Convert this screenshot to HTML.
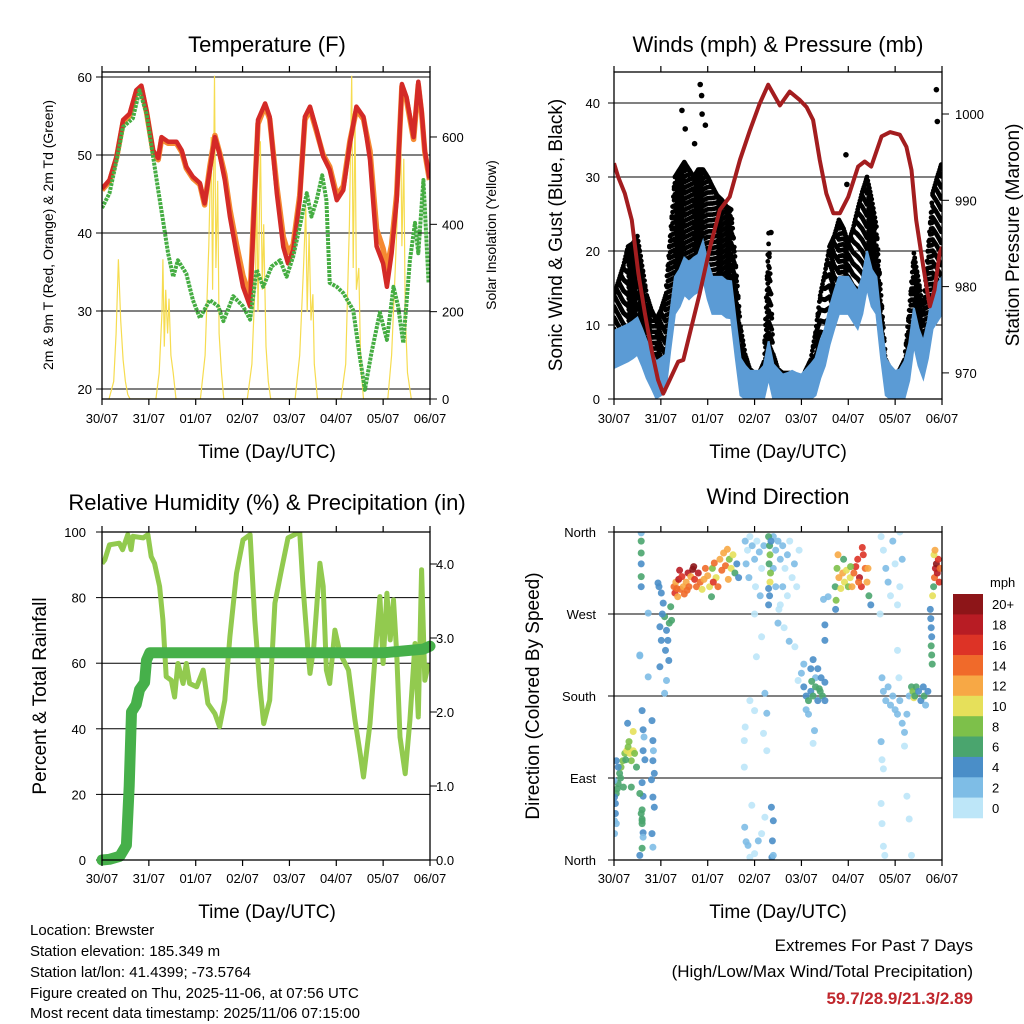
<!DOCTYPE html>
<html><head><meta charset="utf-8"><style>
html,body{margin:0;padding:0;background:#fff;}
svg{display:block;font-family:"Liberation Sans",sans-serif;}
</style></head><body>
<svg id="root" width="1024" height="1024" viewBox="0 0 1024 1024" xmlns="http://www.w3.org/2000/svg">
<rect x="0" y="0" width="1024" height="1024" fill="#fff"/>
<defs>
<clipPath id="c1"><rect x="102" y="72" width="328" height="327"/></clipPath>
<clipPath id="c2"><rect x="614" y="72" width="328" height="327"/></clipPath>
<clipPath id="c3"><rect x="102" y="532" width="328" height="328"/></clipPath>
<clipPath id="c4"><rect x="614" y="532" width="328" height="328"/></clipPath>
</defs>
<g id="p1"></g>
<g id="p2"></g>
<g id="p3"></g>
<g id="p4"></g>
<g id="info" font-size="15" fill="#000">
<text x="30" y="935">Location: Brewster</text>
<text x="30" y="956">Station elevation: 185.349 m</text>
<text x="30" y="977">Station lat/lon: 41.4399; -73.5764</text>
<text x="30" y="998">Figure created on Thu, 2025-11-06, at 07:56 UTC</text>
<text x="30" y="1018">Most recent data timestamp: 2025/11/06 07:15:00</text>
</g>
<g id="extremes" font-size="17" text-anchor="end">
<text x="973" y="951">Extremes For Past 7 Days</text>
<text x="973" y="977">(High/Low/Max Wind/Total Precipitation)</text>
<text x="973" y="1004" fill="#c0272d" font-weight="bold">59.7/28.9/21.3/2.89</text>
</g>
</svg>
<script>
// ---------- DATA ----------
const dayLabels = ["30/07","31/07","01/07","02/07","03/07","04/07","05/07","06/07"];
const tempT = [0,.16,.31,.45,.59,.73,.84,.95,1.09,1.20,1.27,1.41,1.59,1.70,1.80,1.94,2.09,2.19,2.30,2.41,2.51,2.62,2.73,2.87,3.01,3.16,3.23,3.33,3.48,3.58,3.73,3.87,3.97,4.08,4.22,4.33,4.44,4.58,4.72,4.86,5.01,5.15,5.29,5.43,5.58,5.72,5.86,6.00,6.08,6.18,6.29,6.40,6.50,6.65,6.75,6.82,6.89,6.99];
const temp2m = [45.7,46.8,49.8,54.5,55.3,58.3,58.9,55.7,50.6,49.6,52.3,51.7,51.7,50.6,48.5,47.2,46.4,43.8,48,52.3,50.1,46.8,42.1,37.4,33.1,30.6,40.8,54.5,56.6,54.9,45.1,38.2,36.1,37.8,44.2,54.9,56.2,53.2,49.8,48.1,44.2,45.5,51.5,56.2,54.9,49.4,38.3,36.1,33.1,37.4,44.2,59.1,57.4,52.3,59.4,55.7,50.6,47.0];
const temp9m = [45.5,46.6,49.6,54.2,55.0,58.0,58.6,55.5,50.4,49.4,52.0,51.5,51.5,50.4,48.3,47.0,46.2,43.6,48.5,52.5,50.3,47.5,43.0,38.5,34.5,31.8,41.5,54.0,56.3,54.6,46.0,39.5,37.5,38.5,44.8,54.5,55.9,53.0,50.0,48.5,44.8,46.0,51.8,55.8,54.6,50.5,40.5,38.0,35.5,38.5,45.0,58.8,57.0,52.0,59.0,55.4,50.4,46.8];
const dewT = [0,.16,.31,.45,.66,.80,.95,1.09,1.20,1.30,1.41,1.52,1.62,1.80,1.94,2.09,2.30,2.48,2.59,2.80,3.01,3.16,3.30,3.44,3.62,3.80,3.94,4.08,4.22,4.37,4.47,4.58,4.70,4.79,4.86,5.01,5.15,5.36,5.51,5.61,5.75,5.93,6.08,6.22,6.32,6.43,6.57,6.68,6.75,6.86,6.97];
const dewV = [43.2,45.1,49.3,53.6,54.7,58.3,55.3,49.8,45.5,41.7,37.4,34.4,36.5,34.8,31.4,29.1,31.4,30.6,28.7,31.9,30.6,28.9,35.3,33.1,35.7,36.5,34.4,37.0,40.8,45.1,42.1,44.2,47.4,44.2,33.6,33.1,32.3,30.1,23.8,19.9,24.6,29.8,26.3,33.1,30.6,25.9,36.5,41.3,37.4,46.8,33.6];
const solarT = [.15,.25,.3,.35,.4,.45,.5,.55,.6, 1.15,1.22,1.28,1.3,1.33,1.36,1.4,1.43,1.47,1.52,1.58, 2.1,2.2,2.28,2.33,2.36,2.4,2.43,2.47,2.5,2.55,2.6, 3.1,3.2,3.28,3.3,3.33,3.38,3.42,3.45,3.5,3.55,3.6, 4.12,4.22,4.3,4.35,4.38,4.42,4.46,4.5,4.53,4.6, 5.1,5.2,5.28,5.33,5.36,5.4,5.43,5.48,5.52,5.58, 6.1,6.18,6.26,6.33,6.37,6.4,6.44,6.47,6.52,6.6];
const solarV = [0,40,150,320,180,90,40,10,0, 0,60,200,320,120,250,150,230,100,60,0, 0,100,350,600,250,740,300,500,150,60,0, 0,80,300,520,200,590,250,400,120,40,0, 0,100,300,440,200,380,180,240,80,0, 0,80,400,740,300,650,250,300,80,0, 0,100,300,500,660,350,550,200,60,0];

const windT = [0,.1,.2,.3,.4,.5,.6,.7,.8,.9,1.0,1.1,1.2,1.3,1.4,1.5,1.6,1.7,1.8,1.9,2.0,2.1,2.2,2.3,2.4,2.5,2.6,2.7,2.8,2.9,3.0,3.1,3.2,3.3,3.4,3.5,3.6,3.7,3.8,3.9,4.0,4.1,4.2,4.3,4.4,4.5,4.6,4.7,4.8,4.9,5.0,5.1,5.2,5.3,5.4,5.5,5.6,5.7,5.8,5.9,6.0,6.1,6.2,6.3,6.4,6.5,6.6,6.7,6.8,6.9,7.0];
const windV = [6.7,7,7.3,7.6,8,8.5,7,5.3,4,2.6,3,3.5,9,14,15,16.6,16,16.6,17,18.8,16,14,14,14,13.5,13.4,8,3,2,1.3,1.3,1.3,2,5.3,2.2,1.5,0.8,1,1.3,1,0.8,1.5,2.2,3,5.3,7,9.8,12,14,14,14,13,12,14,17.5,15,14,8,3,2,1.3,1.5,2.6,5,9.8,7,5.3,8,12,13,14];
const gustV = [14,16,18,20.6,21,22,18,14,12,10.7,12,14,22,30,31,32,31,30,31,31,30,28.7,27.5,26.9,26,25.6,18,9.8,6,4,3.5,3.5,5,22.4,6,4,3.5,3.5,3.5,3,2.6,4,5.3,9,14,17,20.6,22,24.2,23,21,23,25.6,28,30,27,23.3,14,5.3,4,3,4,5.3,12,19.7,16,12,20,27.8,30,32];
const gustOutT = [1.45,1.52,1.84,1.87,1.88,1.95,1.72,3.35,4.95,4.97,6.88,6.9];
const gustOutV = [39,36.5,42.5,41,38.5,37,34.5,22.5,33,29,41.8,37.5];
const presT = [0,.09,.23,.38,.52,.66,.80,.94,1.05,1.19,1.37,1.48,1.62,1.83,2.05,2.26,2.47,2.69,2.90,3.11,3.29,3.54,3.75,3.97,4.11,4.25,4.39,4.53,4.68,4.82,5.00,5.21,5.35,5.49,5.71,5.89,6.10,6.24,6.35,6.45,6.60,6.74,6.84,6.95,7.0];
const presV = [994.3,992.7,990.8,987.7,981.5,976.9,972.7,969.2,967.6,969.2,971.3,971.5,974.6,979.2,984.6,988.9,990.4,994.7,998.1,1001.2,1003.4,1001.0,1002.6,1001.6,1000.8,999.3,994.7,990.8,988.5,988.5,990.4,993.9,994.5,993.9,997.4,997.9,997.6,996.2,993.5,987.7,982.3,977.7,979.6,983.9,984.6];

const rhT = [0,.06,.16,.37,.44,.55,.62,.66,.88,.98,1.05,1.12,1.23,1.30,1.37,1.48,1.55,1.62,1.73,1.80,1.87,2.02,2.16,2.26,2.41,2.51,2.62,2.73,2.87,3.01,3.16,3.26,3.37,3.45,3.58,3.69,3.83,3.97,4.22,4.29,4.40,4.44,4.52,4.65,4.72,4.79,4.86,4.97,5.08,5.26,5.40,5.51,5.58,5.72,5.86,5.93,6.00,6.08,6.15,6.22,6.29,6.36,6.47,6.57,6.68,6.75,6.82,6.89,6.97];
const rhV = [90.4,91.5,96.1,96.6,94.6,99.2,94.6,98.7,98.2,99.2,92.5,90.5,83.4,73.2,55.9,54.8,49.7,59.9,53.8,59.9,53.8,52.8,57.9,47.7,44.6,40.6,48.7,68.1,87.4,97.6,99.2,73.2,52.8,41.6,48.7,78.3,88.5,98.2,100,83.4,63,56.9,65.1,90.5,83.4,57.9,53.8,70.1,63,57.9,42.6,32.4,25.3,41.6,68.1,80.3,59.9,81.3,67.1,79.3,63,37.5,26.3,42.6,66,43.6,88.5,54.8,59.9];
const rainT = [0,.16,.38,.52,.58,.63,.73,.80,.91,.95,1.02,6.0,6.86,7.0];
const rainV = [0,.01,.05,.2,1.0,2.0,2.1,2.3,2.4,2.7,2.8,2.8,2.85,2.89];

// wind direction: [day, degrees(0=N,90=E,180=S,270=W), speed mph]
const dirDay = [];
const dirDeg = [];
const dirSpd = [];
const dirPts = [
[0.01,43,3],[0.03,62,4],[0.05,73,6],[0.09,84,7],[0.12,95,6],[0.15,102,8],[0.19,109,8],[0.23,117,9],[0.27,120,10],[0.3,124,9],[0.34,117,10],[0.37,109,9],[0.41,120,10],[0.44,117,8],[0.48,102,7],[0.29,150,4],[0.41,141,10],[0.05,109,5],[0.09,102,4],[0.0,87,3],[0.01,69,5],[0.03,51,4],[0.05,40,3],[0.01,29,3],[0.37,80,6],[0.2,80,6],[0.25,110,7],[0.32,130,8],[0.14,90,7],[0.07,78,6],
[0.58,359,3],[0.58,350,6],[0.58,337,6],[0.58,325,4],[0.58,311,6],[0.58,300,4],[0.55,224,3],[0.6,164,4],[0.62,143,4],[0.64,135,3],[0.62,120,4],[0.66,110,4],[0.6,85,4],[0.62,70,4],[0.6,55,6],[0.6,45,7],[0.6,40,6],[0.62,30,4],[0.62,25,3],[0.6,13,6],[0.81,153,4],[0.83,131,4],[0.83,109,4],[0.86,95,4],[0.83,69,4],[0.86,58,4],[0.81,29,4],[0.83,14,3],[0.73,201,3],[0.55,73,6],[0.58,51,6],[0.6,43,7],[0.55,5,4],[0.8,88,5],[0.84,120,3],
[0.94,304,4],[1.01,293,5],[1.05,282,4],[1.08,267,6],[1.12,252,5],[1.15,241,4],[1.17,219,4],[1.12,197,3],[0.98,256,4],[1.01,241,4],[0.98,212,4],[1.23,263,6],[1.21,278,7],[1.08,183,3],[0.55,225,2],[0.73,271,2],[0.96,300,5],[1.03,270,4],[1.1,230,5],[1.18,260,6],
[1.28,300,14],[1.3,293,16],[1.32,305,12],[1.36,289,13],[1.38,308,18],[1.42,297,14],[1.45,311,17],[1.48,300,12],[1.5,292,15],[1.54,305,13],[1.58,315,18],[1.6,300,14],[1.64,311,12],[1.68,319,20],[1.72,308,16],[1.76,300,15],[1.8,315,18],[1.84,305,14],[1.88,297,11],[1.92,308,13],[1.95,320,15],[2.0,312,12],[2.04,300,10],[2.08,289,7],[2.1,320,9],[2.14,326,14],[2.18,310,11],[2.22,300,14],[2.26,330,13],[2.3,318,15],[2.34,337,12],[2.38,323,14],[2.42,341,13],[2.44,308,12],[2.46,330,9],[2.5,320,11],[2.54,335,10],[2.58,315,7],[2.62,325,5],[2.66,310,4],[1.4,318,18],[1.7,322,20],[1.34,298,15],[1.56,296,14],[2.12,305,16],
[2.8,350,2],[2.85,340,1],[2.9,355,1],[2.95,345,2],[3.0,330,2],[3.05,350,1],[3.1,338,2],[3.15,320,1],[3.2,345,3],[2.82,325,3],[2.88,310,2],[3.02,300,1],[3.12,290,2],[3.4,355,2],[3.45,340,3],[3.5,350,2],[3.55,330,3],[3.6,345,2],[3.65,320,1],[3.7,335,2],[3.75,350,1],[3.8,310,1],[3.85,325,2],[3.9,300,1],[3.6,300,2],[3.7,290,1],[3.55,280,1],[3.5,260,2],[3.95,340,1],[3.4,320,3],[3.45,300,2],[3.52,275,1],[3.63,255,1],[3.0,270,1],
[3.15,245,1],[3.04,223,1],[2.9,175,1],[2.8,146,1],[2.78,131,1],[3.0,164,1],[3.22,183,2],[3.26,161,2],[3.26,120,1],[3.19,139,1],[2.78,102,1],[2.94,60,1],[2.79,36,2],[2.86,16,2],[3.0,7,1],[3.15,29,1],[3.22,47,1],[3.08,21,2],[2.9,3,1],[2.82,20,2],
[3.3,355,7],[3.32,345,6],[3.33,335,8],[3.31,325,6],[3.34,315,9],[3.33,305,10],[3.3,298,5],[3.32,290,4],[3.3,280,4],[3.35,350,5],[3.36,58,4],[3.4,43,4],[3.38,21,4],[3.37,3,4],[3.4,5,3],
[3.74,240,3],[3.93,197,1],[3.86,234,1],
[4.0,205,3],[4.05,190,4],[4.1,180,5],[4.15,175,6],[4.2,185,5],[4.25,180,7],[4.3,190,6],[4.35,175,5],[4.4,185,7],[4.45,180,6],[4.5,195,4],[4.2,210,4],[4.25,220,4],[4.3,200,3],[4.35,210,4],[4.1,165,3],[4.15,160,2],[4.42,200,4],[4.05,215,2],[4.5,175,5],[4.25,128,1],[4.28,142,2],[4.5,241,4],[4.5,258,4],[4.47,286,3],[4.57,289,3],[4.22,196,6],[4.38,188,6],
[4.72,300,6],[4.74,285,8],[4.76,320,9],[4.8,310,12],[4.84,298,11],[4.88,315,13],[4.92,305,10],[4.96,318,11],[5.0,300,9],[5.04,310,10],[5.08,300,12],[5.12,315,14],[5.16,322,16],[5.2,330,17],[5.24,310,18],[5.28,300,16],[5.32,335,17],[5.36,320,15],[5.4,305,13],[5.44,290,7],[5.48,280,4],[5.42,320,12],[4.78,335,13],[5.3,343,17],[5.22,305,14],[4.9,330,6],[5.05,322,8],[4.73,275,5],
[5.7,355,1],[5.75,340,1],[5.8,320,2],[5.85,305,2],[5.9,290,1],[5.95,350,2],[6.0,325,1],[6.1,300,1],[6.15,330,2],[6.05,280,1],[5.68,270,1],[6.1,360,1],
[5.72,200,2],[5.75,185,3],[5.8,175,2],[5.85,190,3],[5.9,170,2],[5.95,180,3],[6.0,165,2],[6.05,160,3],[6.1,175,2],[6.15,150,3],[6.2,140,2],[6.25,160,2],[6.3,180,3],[6.35,190,7],[6.38,185,9],[6.4,178,10],[6.42,180,7],[6.45,190,6],[6.5,185,5],[6.55,175,4],[6.6,190,5],[6.65,170,3],[5.7,130,2],[5.72,110,1],[5.75,100,1],[5.7,62,1],[5.72,40,1],[5.75,15,1],[5.78,5,1],[6.08,200,1],[6.2,125,1],[6.25,70,1],[6.3,45,1],[6.35,5,1],[6.05,230,1],[6.62,180,6],[6.7,185,4],
[6.75,275,4],[6.76,265,5],[6.77,255,4],[6.78,245,5],[6.77,235,6],[6.78,225,7],[6.79,215,6],[6.8,290,10],[6.82,300,6],[6.84,310,14],[6.86,320,18],[6.88,325,20],[6.9,315,19],[6.92,330,16],[6.94,305,17],[6.83,335,10],[6.96,320,14],[6.85,340,12]
];
dirPts.forEach(p=>{dirDay.push(p[0]);dirDeg.push(p[1]);dirSpd.push(p[2]);});
const speedColors = ["#bde6f8","#7ebde6","#4a8ec8","#4aa56e","#7dc04a","#e6e05a","#f7a845","#f06a2a","#dd3326","#b81c24","#8d1518"];
const speedLabels = ["0","2","4","6","8","10","12","14","16","18","20+"];

// ---------- HELPERS ----------
const NS="http://www.w3.org/2000/svg";
function mk(parent,tag,attrs,txt){const e=document.createElementNS(NS,tag);for(const k in attrs)e.setAttribute(k,attrs[k]);if(txt!==undefined)e.textContent=txt;parent.appendChild(e);return e;}
function pathOf(ts,vs,fx,fy){return ts.map((t,i)=>(i?"L":"M")+fx(t).toFixed(1)+","+fy(vs[i]).toFixed(1)).join("");}

function frame(g,x0,y0,w,h){
  const r=mk(g,"rect",{x:x0,y:y0,width:w,height:h,fill:"none",stroke:"#000","stroke-width":1.3});
  
  
}
function xAxis(g,x0,yb,yt,labelY,titleY,cx){
  for(let i=0;i<8;i++){
    const x=x0+i*328/7;
    mk(g,"line",{x1:x,y1:yb,x2:x,y2:yb+6,stroke:"#000","stroke-width":1.2});
    mk(g,"line",{x1:x,y1:yt,x2:x,y2:yt-6,stroke:"#000","stroke-width":1.2});
    const t=mk(g,"text",{x:x,y:labelY,"text-anchor":"middle","font-size":13},dayLabels[i]);
    
    
  }
  const tt=mk(g,"text",{x:cx,y:titleY,"text-anchor":"middle","font-size":19},"Time (Day/UTC)");
  
  
}
function title(g,x,y,s){
  const t=mk(g,"text",{x:x,y:y,"text-anchor":"middle","font-size":22},s);
  
  
}
function vtitle(g,x,y,s,size,name){
  const t=mk(g,"text",{x:x,y:y,"text-anchor":"middle","font-size":size,transform:`rotate(-90 ${x} ${y})`},s);
  
  
}
function grid(g,x0,x1,y){mk(g,"line",{x1:x0,y1:y,x2:x1,y2:y,stroke:"#000","stroke-width":1});}

// ---------- PANEL 1 ----------
(function(){
  const g=document.getElementById("p1");
  const X=d=>102+d*328/7, Y=v=>389-(v-20)*7.8, S=w=>399-w*0.4367;
  title(g,267,52,"Temperature (F)");
  [20,30,40,50,60].forEach(v=>{grid(g,102,430,Y(v));
    mk(g,"line",{x1:96,y1:Y(v),x2:102,y2:Y(v),stroke:"#000"});
    const t=mk(g,"text",{x:92,y:Y(v)+5,"text-anchor":"end","font-size":13},v);
    
    });
  [0,200,400,600].forEach(v=>{mk(g,"line",{x1:430,y1:S(v),x2:437,y2:S(v),stroke:"#000"});
    const t=mk(g,"text",{x:442,y:S(v)+5,"font-size":13},v);
    
    });
  const c=mk(g,"g",{"clip-path":"url(#c1)"});
  const sol=mk(c,"path",{d:pathOf(solarT,solarV,X,S),fill:"none",stroke:"#f6dc50","stroke-width":1.2});
  
  
  const o=mk(c,"path",{d:pathOf(tempT,temp9m,X,Y),fill:"none",stroke:"#f58a32","stroke-width":5.5,"stroke-linejoin":"round"});
  
  
  const r=mk(c,"path",{d:pathOf(tempT,temp2m,X,Y),fill:"none",stroke:"#d42a27","stroke-width":4.5,"stroke-linejoin":"round"});
  
  
  const d=mk(c,"path",{d:pathOf(dewT,dewV,X,Y),fill:"none",stroke:"#45ad42","stroke-width":4,"stroke-dasharray":"3 1","stroke-linejoin":"round"});
  
  
  frame(g,102,72,328,327);
  xAxis(g,102,399,72,423,458,267);
  vtitle(g,53,235,"2m & 9m T (Red, Orange) & 2m Td (Green)",14,"y-axis-title");
  vtitle(g,496,235,"Solar Insolation (Yellow)",14,"y2-axis-title");
})();

// ---------- PANEL 2 ----------
(function(){
  const g=document.getElementById("p2");
  const X=d=>614+d*328/7, Y=v=>399-v*7.4, P=p=>114+(1000-p)*8.63;
  title(g,778,52,"Winds (mph) & Pressure (mb)");
  [0,10,20,30,40].forEach(v=>{if(v>0)grid(g,614,942,Y(v));
    mk(g,"line",{x1:608,y1:Y(v),x2:614,y2:Y(v),stroke:"#000"});
    const t=mk(g,"text",{x:600,y:Y(v)+5,"text-anchor":"end","font-size":13},v);
    
    });
  [970,980,990,1000].forEach(v=>{mk(g,"line",{x1:942,y1:P(v),x2:949,y2:P(v),stroke:"#000"});
    const t=mk(g,"text",{x:955,y:P(v)+5,"font-size":13},v);
    
    });
  const c=mk(g,"g",{"clip-path":"url(#c2)"});
  const dots=mk(c,"g",{fill:"#000"});
  
  
  const SUB=6;
  for(let i=0;i<windT.length-1;i++){
    for(let s=0;s<SUB;s++){
      const f=s/SUB, t=windT[i]+(windT[i+1]-windT[i])*f;
      const lo=windV[i]+(windV[i+1]-windV[i])*f+1, hi=gustV[i]+(gustV[i+1]-gustV[i])*f;
      const off=((i*SUB+s)*0.53)%1.5;
      for(let v=hi-off; v>=lo; v-=1.5){
        mk(dots,"circle",{cx:X(t).toFixed(1),cy:Y(v).toFixed(1),r:2.4});
      }
      mk(dots,"circle",{cx:X(t).toFixed(1),cy:Y(hi).toFixed(1),r:2.4});
    }
  }
  gustOutT.forEach((t,i)=>{mk(dots,"circle",{cx:X(t),cy:Y(gustOutV[i]),r:2.8});});
  const lo=windV.map(v=>Math.max(0,v-2.5)), hi=windV.map(v=>v+2.5);
  let dd=pathOf(windT,hi,X,Y)+windT.slice().reverse().map((t,i)=>"L"+X(t).toFixed(1)+","+Y(lo[lo.length-1-i]).toFixed(1)).join("")+"Z";
  const band=mk(c,"path",{d:dd,fill:"#5b9bd5",stroke:"#5b9bd5","stroke-width":2});
  
  
  const pr=mk(c,"path",{d:pathOf(presT,presV,X,P),fill:"none",stroke:"#a31d1f","stroke-width":4,"stroke-linejoin":"round"});
  
  
  frame(g,614,72,328,327);
  xAxis(g,614,399,72,423,458,778);
  vtitle(g,562,235,"Sonic Wind & Gust (Blue, Black)",19,"y-axis-title");
  vtitle(g,1019,235,"Station Pressure (Maroon)",19,"y2-axis-title");
})();

// ---------- PANEL 3 ----------
(function(){
  const g=document.getElementById("p3");
  const X=d=>102+d*328/7, Y=v=>860-v*3.28, R=r=>860-r*74;
  title(g,267,510,"Relative Humidity (%) & Precipitation (in)");
  [0,20,40,60,80,100].forEach(v=>{if(v>0&&v<100)grid(g,102,430,Y(v));
    mk(g,"line",{x1:96,y1:Y(v),x2:102,y2:Y(v),stroke:"#000"});
    const t=mk(g,"text",{x:86,y:Y(v)+5,"text-anchor":"end","font-size":13},v);
    
    });
  [0,1,2,3,4].forEach(v=>{mk(g,"line",{x1:430,y1:R(v),x2:437,y2:R(v),stroke:"#000"});
    const t=mk(g,"text",{x:436,y:R(v)+5,"font-size":13},v.toFixed(1));
    
    });
  const c=mk(g,"g",{"clip-path":"url(#c3)"});
  const rh=mk(c,"path",{d:pathOf(rhT,rhV,X,Y),fill:"none",stroke:"#92ca4f","stroke-width":5,"stroke-linejoin":"round"});
  
  
  const rn=mk(g,"path",{d:pathOf(rainT,rainV,X,R),fill:"none",stroke:"#46b04a","stroke-width":11,"stroke-linejoin":"round","stroke-linecap":"round"});
  
  
  frame(g,102,532,328,328);
  xAxis(g,102,860,532,883,918,267);
  vtitle(g,46,696,"Percent & Total Rainfall",19,"y-axis-title");
})();

// ---------- PANEL 4 ----------
(function(){
  const g=document.getElementById("p4");
  const X=d=>614+d*328/7, Y=v=>860-v/360*328;
  title(g,778,504,"Wind Direction");
  const names=["North","East","South","West","North"];
  [0,90,180,270,360].forEach((v,i)=>{if(v>0&&v<360)grid(g,614,942,Y(v));
    mk(g,"line",{x1:608,y1:Y(v),x2:614,y2:Y(v),stroke:"#000"});
    const t=mk(g,"text",{x:596,y:Y(v)+5,"text-anchor":"end","font-size":13},names[i]);
    
    });
  const c=mk(g,"g",{"clip-path":"url(#c4)"});
  dirDay.forEach((d,i)=>{
    const b=Math.min(10,Math.floor(dirSpd[i]/2));
    const e=mk(c,"circle",{cx:X(d).toFixed(1),cy:Y(dirDeg[i]).toFixed(1),r:3.5,fill:speedColors[b],"fill-opacity":0.9});
    
    
  });
  frame(g,614,532,328,328);
  xAxis(g,614,860,532,883,918,778);
  vtitle(g,539,696,"Direction (Colored By Speed)",19,"y-axis-title");
  const lg=mk(g,"g",{});
  
  
  const lt=mk(lg,"text",{x:990,y:587,"font-size":13},"mph");
  
  
  const bh=224/11;
  for(let k=0;k<11;k++){
    const y=594+k*bh, idx=10-k;
    mk(lg,"rect",{x:953,y:y.toFixed(1),width:30,height:(bh+0.3).toFixed(1),fill:speedColors[idx]});
    const t=mk(lg,"text",{x:992,y:(y+bh/2+5).toFixed(1),"font-size":13},speedLabels[idx]);
    
    
  }
})();
</script>
</body></html>
